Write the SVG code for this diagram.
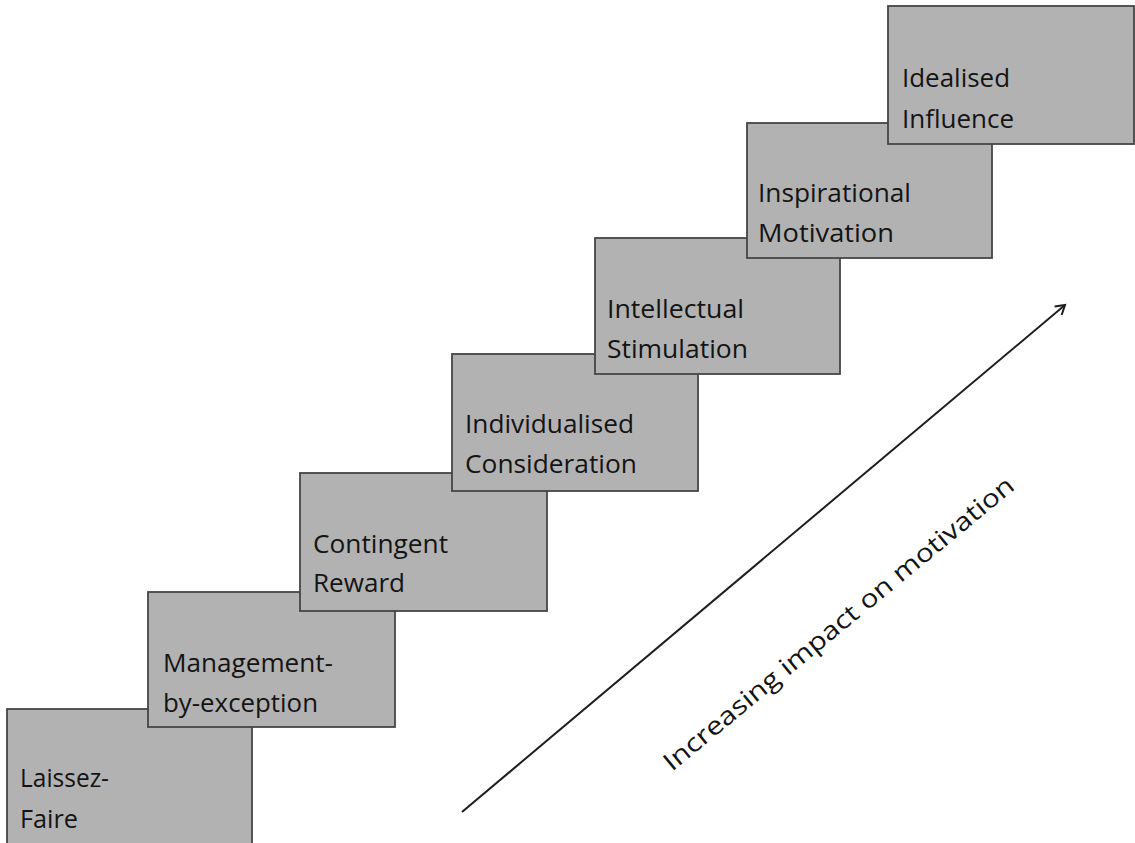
<svg xmlns="http://www.w3.org/2000/svg" width="1135" height="843" viewBox="0 0 1135 843">
  <defs>
    <style>
      .step { fill: #b2b2b2; stroke: #454545; stroke-width: 1.8; }
      .label { font-family: "Open Sans", "Liberation Sans", sans-serif; font-size: 25px; fill: #141414; }
      .axis { stroke: #1e1e1e; stroke-width: 2; fill: none; }
    </style>
    <marker id="openArrow" markerWidth="14" markerHeight="14" refX="11" refY="7" orient="auto" markerUnits="userSpaceOnUse">
      <polyline points="2,1.5 11,7 2,12.5" fill="none" stroke="#1e1e1e" stroke-width="2"/>
    </marker>
  </defs>

  <rect width="1135" height="843" fill="#ffffff"/>

  <!-- staircase of leadership styles, each step drawn above the previous one -->
  <g id="laissez-faire">
    <rect class="step" x="7" y="709" width="245" height="145"/>
    <text class="label" x="20" y="787" textLength="89" lengthAdjust="spacingAndGlyphs">Laissez-</text>
    <text class="label" x="20" y="828" textLength="58" lengthAdjust="spacingAndGlyphs">Faire</text>
  </g>

  <g id="management-by-exception">
    <rect class="step" x="148" y="592" width="247" height="135"/>
    <text class="label" x="163" y="672" textLength="170" lengthAdjust="spacingAndGlyphs">Management-</text>
    <text class="label" x="163" y="712" textLength="155" lengthAdjust="spacingAndGlyphs">by-exception</text>
  </g>

  <g id="contingent-reward">
    <rect class="step" x="300" y="473" width="247" height="138"/>
    <text class="label" x="313" y="553" textLength="135" lengthAdjust="spacingAndGlyphs">Contingent</text>
    <text class="label" x="313" y="592" textLength="92" lengthAdjust="spacingAndGlyphs">Reward</text>
  </g>

  <g id="individualised-consideration">
    <rect class="step" x="452" y="354" width="246" height="137"/>
    <text class="label" x="465" y="433" textLength="169" lengthAdjust="spacingAndGlyphs">Individualised</text>
    <text class="label" x="465" y="473" textLength="172" lengthAdjust="spacingAndGlyphs">Consideration</text>
  </g>

  <g id="intellectual-stimulation">
    <rect class="step" x="595" y="238" width="245" height="136"/>
    <text class="label" x="607" y="318" textLength="137" lengthAdjust="spacingAndGlyphs">Intellectual</text>
    <text class="label" x="607" y="358" textLength="141" lengthAdjust="spacingAndGlyphs">Stimulation</text>
  </g>

  <g id="inspirational-motivation">
    <rect class="step" x="747" y="123" width="245" height="135"/>
    <text class="label" x="758" y="202" textLength="153" lengthAdjust="spacingAndGlyphs">Inspirational</text>
    <text class="label" x="758" y="242" textLength="136" lengthAdjust="spacingAndGlyphs">Motivation</text>
  </g>

  <g id="idealised-influence">
    <rect class="step" x="888" y="6" width="246" height="138"/>
    <text class="label" x="902" y="87" textLength="108" lengthAdjust="spacingAndGlyphs">Idealised</text>
    <text class="label" x="902" y="128" textLength="112" lengthAdjust="spacingAndGlyphs">Influence</text>
  </g>

  <!-- rising axis with its caption -->
  <g id="connectors">
    <line class="axis" x1="462" y1="812" x2="1065" y2="305" marker-end="url(#openArrow)"/>
  </g>
  <text class="label" x="672" y="772" transform="rotate(-39.5 672 772)" textLength="446" lengthAdjust="spacingAndGlyphs">Increasing impact on motivation</text>
</svg>
